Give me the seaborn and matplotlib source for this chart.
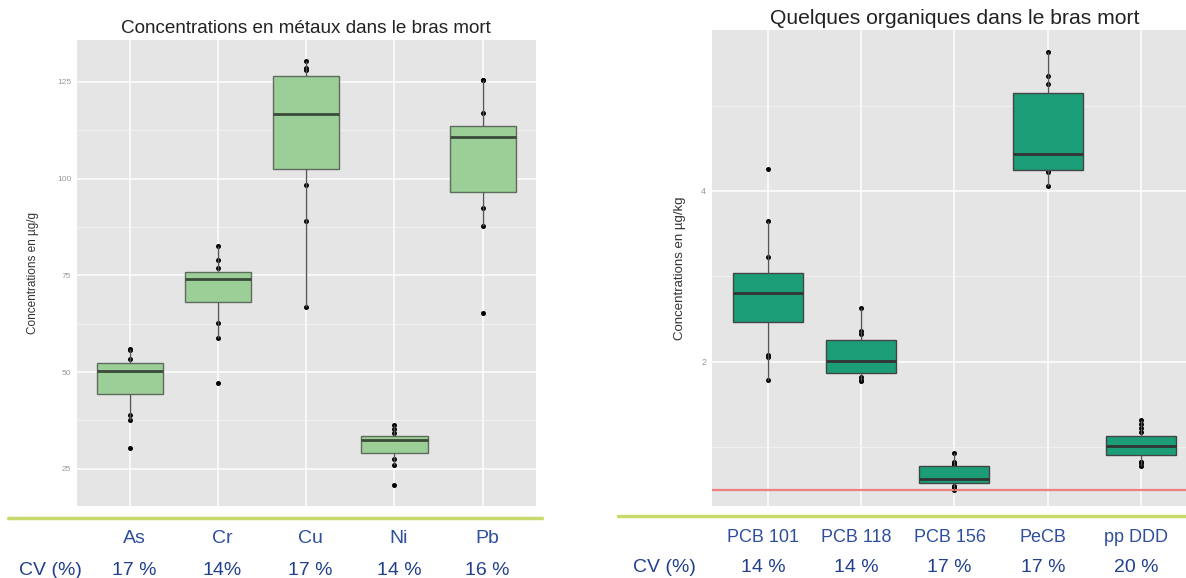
import seaborn as sns
import pandas as pd
import matplotlib.pyplot as plt
from matplotlib.lines import Line2D
from matplotlib.transforms import blended_transform_factory

# --- metaux (ug/g) ---
metals = ["As", "Cr", "Cu", "Ni", "Pb"]
as_vals = [30.3, 37.7, 38.8, 50.0, 50.15, 50.3, 50.9, 51.5, 53.4, 55.6, 56.0]
cr_vals = [47.1, 58.8, 62.6, 73.6, 73.8, 74.0, 74.4, 74.9, 76.9, 79.0, 82.6]
cu_vals = [66.8, 89.0, 98.3, 106.7, 112.0, 116.7, 121.0, 124.8, 128.2, 128.6, 130.3]
ni_vals = [20.8, 26.0, 27.6, 30.4, 31.5, 32.5, 32.6, 32.7, 34.3, 35.2, 36.3]
pb_vals = [65.2, 87.8, 92.3, 97.9, 105.0, 110.5, 111.1, 112.0, 112.63, 116.9, 125.6, 125.6]
cv_metals = ["17 %", "14%", "17 %", "14 %", "16 %"]

# --- organiques (ug/kg) ---
organics = ["PCB 101", "PCB 118", "PCB 156", "PeCB", "pp DDD"]
pcb101_vals = [1.78, 2.06, 2.08, 2.60, 2.70, 2.78, 2.84, 2.90, 2.97, 3.23, 3.65, 4.26]
pcb118_vals = [1.77, 1.785, 1.82, 1.92, 1.96, 2.01, 2.10, 2.19, 2.32, 2.36, 2.625]
pcb156_vals = [0.496, 0.516, 0.53, 0.543, 0.605, 0.612, 0.62, 0.625, 0.68, 0.72,
               0.764, 0.79, 0.80, 0.828, 0.926]
pecb_vals = [4.059, 4.22, 4.23, 4.294, 4.40, 4.468, 4.818, 5.254, 5.344, 5.633]
ppddd_vals = [0.78, 0.81, 0.82, 0.828, 0.984, 0.995, 1.0, 1.008, 1.03, 1.06,
              1.088, 1.17, 1.22, 1.265, 1.31]
cv_organics = ["14 %", "14 %", "17 %", "17 %", "20 %"]
seuil = 0.5


def long_df(names, groups):
    return pd.DataFrame({
        "param": [n for n, g in zip(names, groups) for _ in g],
        "conc": [v for g in groups for v in g],
    })


df_m = long_df(metals, [as_vals, cr_vals, cu_vals, ni_vals, pb_vals])
df_o = long_df(organics, [pcb101_vals, pcb118_vals, pcb156_vals, pecb_vals, ppddd_vals])

sns.set_style("darkgrid", {"axes.facecolor": "#E5E5E5", "grid.color": "white"})
plt.rcParams["font.family"] = ["Liberation Sans", "DejaVu Sans"]

fig = plt.figure(figsize=(11.86, 5.78), dpi=100)
ax1 = fig.add_axes([0.0647, 0.1246, 0.387, 0.806])
ax2 = fig.add_axes([0.6001, 0.1246, 0.4091, 0.8235])


def draw(ax, df, order, fill, edge, med):
    sns.stripplot(data=df, x="param", y="conc", order=order, jitter=False,
                  color="black", size=3.6, ax=ax, zorder=1)
    sns.boxplot(data=df, x="param", y="conc", order=order, color=fill,
                saturation=1, width=0.75, showcaps=False, showfliers=False,
                linecolor=edge, linewidth=1.0, ax=ax,
                medianprops={"color": med, "linewidth": 2.0},
                whiskerprops={"color": "#555555", "linewidth": 1.0})
    ax.set_xlim(-0.6, len(order) - 0.4)
    ax.set_xticks(range(len(order)))
    ax.tick_params(axis="x", labelbottom=False, length=0)
    ax.grid(which="major", axis="both", color="white", linewidth=1.1)
    ax.grid(which="minor", axis="y", color="#F2F2F2", linewidth=0.6)
    for s in ax.spines.values():
        s.set_visible(False)
    ax.set_xlabel("")


# left panel
draw(ax1, df_m, metals, "#9BCF97", "#5F6B5F", "#3A4A3A")
ax1.set_ylim(15.4, 135.8)
ax1.set_yticks([25, 50, 75, 100, 125])
ax1.set_yticks([37.5, 62.5, 87.5, 112.5], minor=True)
ax1.tick_params(axis="y", which="major", length=3, color="#AAAAAA",
                labelsize=6, labelcolor="#999999", pad=1)
ax1.tick_params(axis="y", which="minor", length=0)
ax1.set_ylabel("Concentrations en µg/g", fontsize=8.5, color="#333333")
ax1.yaxis.set_label_coords(-0.082, 0.5)
ax1.set_title("Concentrations en métaux dans le bras mort", fontsize=13.6,
              color="#222222", pad=5)

# right panel
draw(ax2, df_o, organics, "#1B9E77", "#444444", "#333333")
ax2.axhline(seuil, color="#F08080", linewidth=1.6, zorder=1.5)
ax2.set_ylim(0.308, 5.887)
ax2.set_yticks([2, 4])
ax2.set_yticks([1, 3, 5], minor=True)
ax2.tick_params(axis="y", which="major", length=3, color="#AAAAAA",
                labelsize=6.5, labelcolor="#999999", pad=1)
ax2.tick_params(axis="y", which="minor", length=0)
ax2.set_ylabel("Concentrations en µg/kg", fontsize=9.5, color="#333333")
ax2.yaxis.set_label_coords(-0.052, 0.5)
ax2.set_title("Quelques organiques dans le bras mort", fontsize=15.2,
              color="#222222", pad=4)

# separator lines
fig.add_artist(Line2D([8 / 1186, 542 / 1186], [1 - 518 / 578] * 2,
                      color="#C8DA6E", linewidth=2.5))
fig.add_artist(Line2D([618 / 1186, 1.0], [1 - 516 / 578] * 2,
                      color="#C8DA6E", linewidth=2.5))

# names + CV rows
tr1 = blended_transform_factory(ax1.transData, fig.transFigure)
for i, (n, cv) in enumerate(zip(metals, cv_metals)):
    ax1.text(i + 0.05, 0.060, n, transform=tr1, ha="center", va="baseline",
             fontsize=14, color="#2F4E9E", clip_on=False)
    ax1.text(i + 0.05, 0.006, cv, transform=tr1, ha="center", va="baseline",
             fontsize=14, color="#23408E", clip_on=False)
fig.text(50 / 1186, 0.006, "CV (%)", ha="center", va="baseline",
         fontsize=14, color="#23408E")

tr2 = blended_transform_factory(ax2.transData, fig.transFigure)
for i, (n, cv) in enumerate(zip(organics, cv_organics)):
    ax2.text(i - 0.05, 0.063, n, transform=tr2, ha="center", va="baseline",
             fontsize=13, color="#2F4E9E", clip_on=False)
    ax2.text(i - 0.05, 0.010, cv, transform=tr2, ha="center", va="baseline",
             fontsize=14, color="#23408E", clip_on=False)
fig.text(664 / 1186, 0.010, "CV (%)", ha="center", va="baseline",
         fontsize=14, color="#23408E")

fig.savefig("out.png", dpi=100)
